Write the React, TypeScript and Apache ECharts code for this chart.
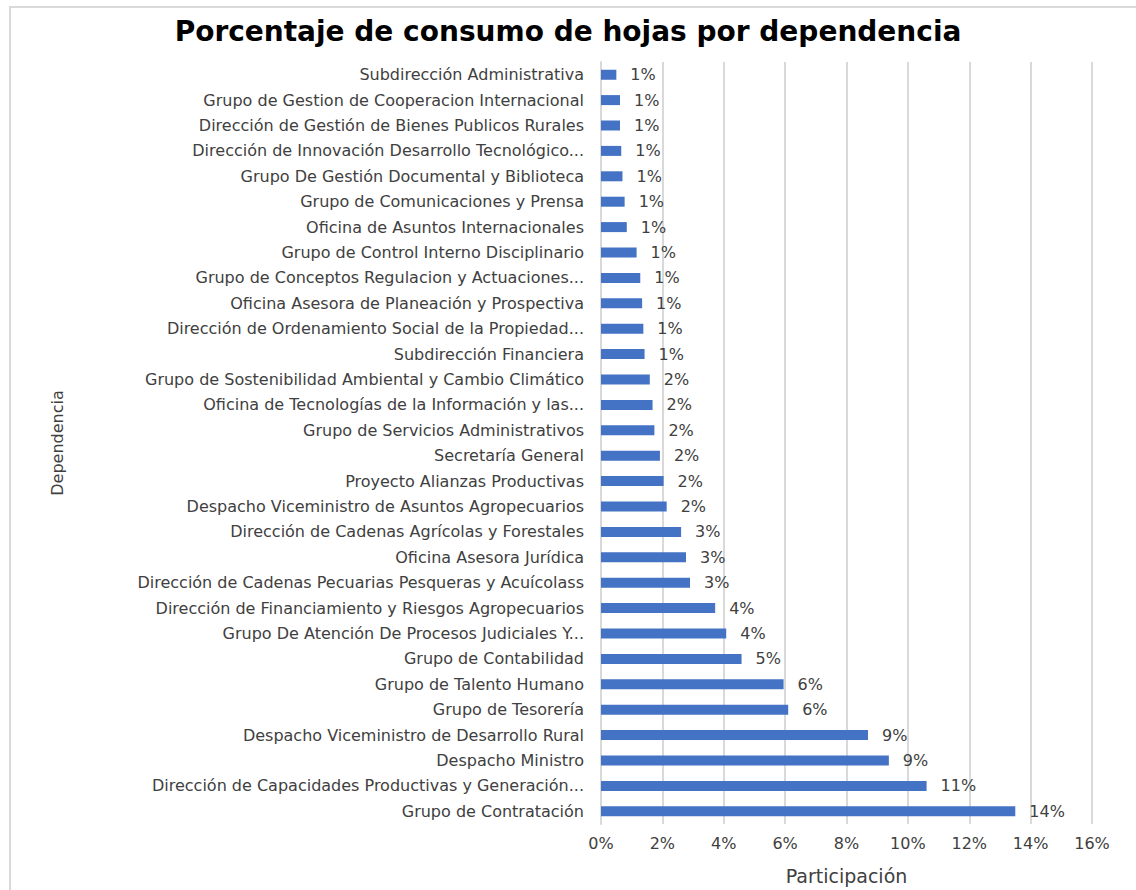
import React, { useEffect, useRef } from "react";
import * as echarts from "echarts";

const titleText = "Porcentaje de consumo de hojas por dependencia";
const yAxisName = "Dependencia";
const xAxisName = "Participación";

const categories = [
  "Subdirección Administrativa",
  "Grupo de Gestion de Cooperacion Internacional",
  "Dirección de Gestión de Bienes Publicos Rurales",
  "Dirección de Innovación Desarrollo Tecnológico...",
  "Grupo De Gestión Documental y Biblioteca",
  "Grupo de Comunicaciones y Prensa",
  "Oficina de Asuntos Internacionales",
  "Grupo de Control Interno Disciplinario",
  "Grupo de Conceptos Regulacion y Actuaciones...",
  "Oficina Asesora de Planeación y Prospectiva",
  "Dirección de Ordenamiento Social de la Propiedad...",
  "Subdirección Financiera",
  "Grupo de Sostenibilidad Ambiental y Cambio Climático",
  "Oficina de Tecnologías de la Información y las...",
  "Grupo de Servicios Administrativos",
  "Secretaría General",
  "Proyecto Alianzas Productivas",
  "Despacho Viceministro de Asuntos Agropecuarios",
  "Dirección de Cadenas Agrícolas y Forestales",
  "Oficina Asesora Jurídica",
  "Dirección de Cadenas Pecuarias Pesqueras y Acuícolass",
  "Dirección de Financiamiento y Riesgos Agropecuarios",
  "Grupo De Atención De Procesos Judiciales Y...",
  "Grupo de Contabilidad",
  "Grupo de Talento Humano",
  "Grupo de Tesorería",
  "Despacho Viceministro de Desarrollo Rural",
  "Despacho Ministro",
  "Dirección de Capacidades Productivas y Generación...",
  "Grupo de Contratación",
];

// percentage values (participación)
const values = [
  0.5, 0.62, 0.62, 0.66, 0.7, 0.77, 0.84, 1.16, 1.28, 1.34,
  1.38, 1.42, 1.59, 1.68, 1.74, 1.92, 2.04, 2.14, 2.61, 2.77,
  2.9, 3.72, 4.08, 4.58, 5.95, 6.1, 8.7, 9.38, 10.61, 13.5,
];

const xTicks = { min: 0, max: 16, interval: 2 };

const FONT = "'DejaVu Sans', sans-serif";

export default function App() {
  const ref = useRef<HTMLDivElement>(null);
  useEffect(() => {
    document.body.style.margin = "0";
    const chart = echarts.init(ref.current!, null, { renderer: "svg" });
    chart.setOption({
      animation: false,
      backgroundColor: "#ffffff",
      textStyle: { fontFamily: FONT },
      title: {
        text: titleText,
        left: "center",
        top: 12,
        textStyle: { fontFamily: FONT, fontSize: 28, fontWeight: "bold", color: "#000000" },
      },
      graphic: [
        {
          type: "rect",
          shape: { x: 10, y: 7, width: 1140, height: 900 },
          style: { fill: "none", stroke: "#d9d9d9", lineWidth: 2 },
          silent: true,
          z: -1,
        },
      ],
      grid: { left: 601, right: 44, top: 62, bottom: 63, containLabel: false },
      xAxis: {
        type: "value",
        min: xTicks.min,
        max: xTicks.max,
        interval: xTicks.interval,
        name: xAxisName,
        nameLocation: "middle",
        nameGap: 42,
        nameTextStyle: { fontFamily: FONT, fontSize: 19, color: "#404040" },
        axisLine: { show: false },
        axisTick: { show: false },
        axisLabel: {
          formatter: (v: number) => `${v}%`,
          fontFamily: FONT,
          fontSize: 16,
          color: "#404040",
          margin: 11,
        },
        splitLine: { show: true, lineStyle: { color: "#d9d9d9", width: 2 } },
      },
      yAxis: {
        type: "category",
        data: categories,
        inverse: true,
        name: yAxisName,
        nameLocation: "middle",
        nameRotate: 90,
        nameGap: 536,
        nameTextStyle: { fontFamily: FONT, fontSize: 16, color: "#404040" },
        axisLine: { show: true, lineStyle: { color: "#d9d9d9", width: 2 } },
        axisTick: { show: false },
        axisLabel: {
          fontFamily: FONT,
          fontSize: 16,
          color: "#404040",
          margin: 17,
        },
      },
      series: [
        {
          type: "bar",
          data: values,
          barWidth: 10,
          itemStyle: { color: "#4472c4" },
          label: {
            show: true,
            position: "right",
            distance: 14,
            formatter: (p: any) => `${Math.round(p.value)}%`,
            fontFamily: FONT,
            fontSize: 16,
            color: "#404040",
          },
        },
      ],
    });
    return () => chart.dispose();
  }, []);
  return <div ref={ref} style={{ width: 1136, height: 890 }} />;
}
